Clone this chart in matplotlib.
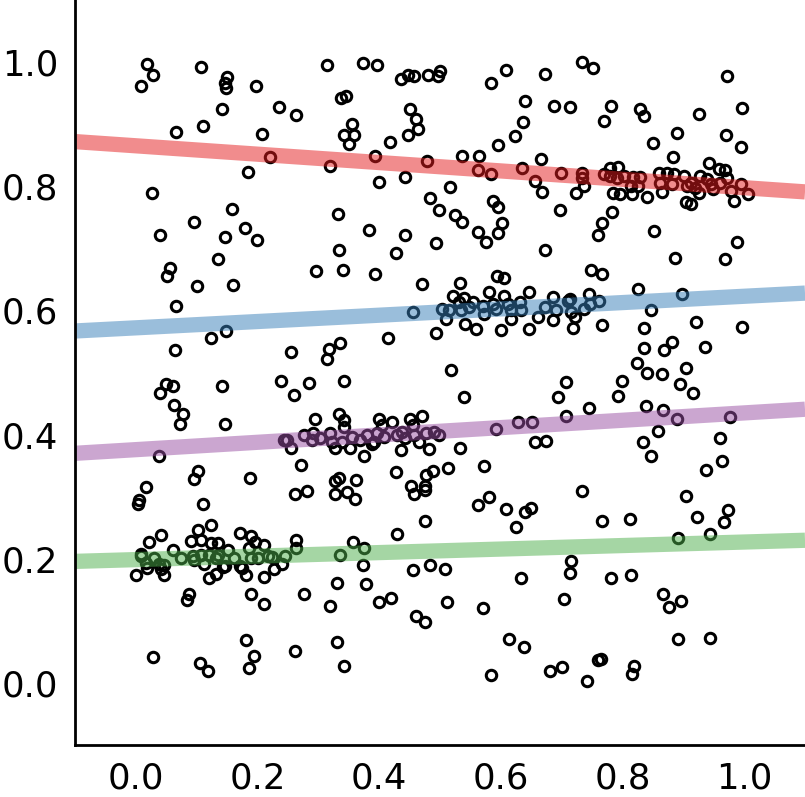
import numpy as np
import matplotlib
matplotlib.use("Agg")
import matplotlib.pyplot as plt

# scattered sample points
pts = [
    (0.018, 0.997), (0.028, 0.980), (0.009, 0.962), (0.107, 0.992), (0.150, 0.976), (0.146, 0.966),
    (0.149, 0.959), (0.197, 0.962), (0.236, 0.927), (0.141, 0.924), (0.111, 0.897), (0.067, 0.887),
    (0.208, 0.884), (0.220, 0.847), (0.184, 0.823), (0.027, 0.790), (0.158, 0.763), (0.095, 0.742),
    (0.179, 0.733), (0.040, 0.721), (0.147, 0.718), (0.200, 0.713), (0.136, 0.683), (0.057, 0.669),
    (0.051, 0.656),
    (0.315, 0.996), (0.373, 0.998), (0.396, 0.995), (0.436, 0.972), (0.447, 0.980), (0.457, 0.978),
    (0.481, 0.980), (0.500, 0.986), (0.497, 0.977), (0.338, 0.942), (0.345, 0.945), (0.263, 0.915),
    (0.450, 0.924), (0.460, 0.908), (0.464, 0.892), (0.447, 0.882), (0.355, 0.901), (0.342, 0.883),
    (0.358, 0.883), (0.350, 0.868), (0.418, 0.871), (0.393, 0.849), (0.320, 0.833), (0.479, 0.840),
    (0.400, 0.807), (0.443, 0.815), (0.484, 0.781), (0.499, 0.762), (0.332, 0.756), (0.383, 0.729),
    (0.443, 0.722), (0.494, 0.709), (0.334, 0.697), (0.427, 0.693), (0.296, 0.664), (0.340, 0.665),
    (0.393, 0.659), (0.471, 0.643),
    (0.733, 1.000), (0.752, 0.991), (0.609, 0.988), (0.672, 0.981), (0.584, 0.967), (0.639, 0.938),
    (0.687, 0.929), (0.713, 0.927), (0.769, 0.905), (0.636, 0.903), (0.623, 0.881), (0.596, 0.867),
    (0.536, 0.849), (0.564, 0.848), (0.666, 0.844), (0.562, 0.827), (0.584, 0.820), (0.635, 0.830),
    (0.657, 0.808), (0.668, 0.791), (0.699, 0.822), (0.734, 0.822), (0.734, 0.814), (0.736, 0.801),
    (0.723, 0.790), (0.517, 0.799), (0.525, 0.753), (0.537, 0.742), (0.587, 0.776), (0.595, 0.767),
    (0.602, 0.741), (0.596, 0.724), (0.562, 0.726), (0.575, 0.711), (0.698, 0.762), (0.673, 0.697),
    (0.760, 0.721), (0.594, 0.655), (0.606, 0.653), (0.749, 0.665),
    (0.971, 0.978), (0.781, 0.929), (0.829, 0.925), (0.836, 0.914), (0.926, 0.916), (0.997, 0.926),
    (0.890, 0.886), (0.970, 0.882), (0.995, 0.864), (0.851, 0.869), (0.883, 0.847), (0.943, 0.837),
    (0.959, 0.828), (0.969, 0.827),
    (0.769, 0.819), (0.779, 0.830), (0.792, 0.831), (0.780, 0.816), (0.791, 0.814), (0.803, 0.816),
    (0.814, 0.800), (0.818, 0.815), (0.829, 0.815), (0.825, 0.801), (0.785, 0.790), (0.796, 0.788),
    (0.815, 0.787), (0.841, 0.783), (0.860, 0.821), (0.873, 0.821), (0.862, 0.806), (0.865, 0.791),
    (0.881, 0.803), (0.884, 0.819), (0.901, 0.816), (0.906, 0.800), (0.912, 0.806), (0.927, 0.816),
    (0.920, 0.798), (0.926, 0.790), (0.939, 0.811), (0.945, 0.803), (0.948, 0.795), (0.961, 0.806),
    (0.972, 0.814), (0.978, 0.792), (0.983, 0.777), (0.995, 0.803), (1.007, 0.788), (0.904, 0.775),
    (0.912, 0.772),
    (0.782, 0.759), (0.767, 0.741), (0.852, 0.728), (0.989, 0.710), (0.886, 0.685), (0.968, 0.683),
    (0.766, 0.659),
    (0.100, 0.640), (0.160, 0.641), (0.066, 0.607), (0.149, 0.567), (0.123, 0.556), (0.065, 0.537),
    (0.255, 0.533), (0.050, 0.481), (0.062, 0.478), (0.040, 0.467), (0.142, 0.478), (0.238, 0.487),
    (0.063, 0.448), (0.077, 0.434), (0.072, 0.417), (0.147, 0.418), (0.244, 0.391), (0.038, 0.365),
    (0.102, 0.341), (0.095, 0.329), (0.188, 0.331), (0.017, 0.316),
    (0.005, 0.295), (0.003, 0.288), (0.110, 0.288), (0.041, 0.239), (0.022, 0.228), (0.102, 0.247),
    (0.124, 0.254), (0.091, 0.229), (0.107, 0.231), (0.123, 0.226), (0.136, 0.226), (0.171, 0.242),
    (0.190, 0.237), (0.196, 0.228), (0.211, 0.223), (0.062, 0.215), (0.009, 0.208), (0.152, 0.215),
    (0.187, 0.218),
    (0.008, 0.205), (0.017, 0.194), (0.030, 0.202), (0.039, 0.191), (0.047, 0.190), (0.074, 0.202),
    (0.094, 0.205), (0.096, 0.199), (0.107, 0.207), (0.120, 0.207), (0.135, 0.207), (0.113, 0.191),
    (0.132, 0.201), (0.146, 0.189), (0.162, 0.202), (0.171, 0.189), (0.190, 0.202), (0.201, 0.202),
    (0.218, 0.205), (0.224, 0.203), (0.245, 0.205),
    (0.000, 0.174), (0.019, 0.186), (0.041, 0.183), (0.047, 0.174), (0.121, 0.170), (0.132, 0.175),
    (0.143, 0.187), (0.174, 0.186), (0.182, 0.174), (0.211, 0.171), (0.228, 0.183), (0.240, 0.191),
    (0.088, 0.143), (0.084, 0.134), (0.190, 0.144), (0.211, 0.127), (0.182, 0.069), (0.029, 0.042),
    (0.105, 0.033), (0.119, 0.020), (0.195, 0.043), (0.186, 0.025),
    (0.262, 0.305), (0.281, 0.309), (0.328, 0.305), (0.347, 0.307), (0.360, 0.297), (0.457, 0.305),
    (0.476, 0.311), (0.476, 0.261), (0.429, 0.240), (0.264, 0.231), (0.264, 0.218), (0.357, 0.227),
    (0.376, 0.218), (0.336, 0.206), (0.373, 0.190), (0.455, 0.182), (0.483, 0.190), (0.508, 0.184),
    (0.331, 0.161), (0.379, 0.159), (0.277, 0.143), (0.320, 0.124), (0.400, 0.130), (0.419, 0.137),
    (0.460, 0.108), (0.476, 0.098), (0.331, 0.066), (0.261, 0.051), (0.343, 0.027),
    (0.734, 0.310), (0.580, 0.299), (0.563, 0.286), (0.609, 0.281), (0.640, 0.275), (0.650, 0.282),
    (0.625, 0.252), (0.716, 0.196), (0.713, 0.178), (0.633, 0.170), (0.511, 0.131), (0.570, 0.121),
    (0.704, 0.135), (0.613, 0.071), (0.638, 0.058), (0.584, 0.013), (0.681, 0.020), (0.701, 0.026),
    (0.742, 0.004), (0.760, 0.037),
    (0.904, 0.302), (0.974, 0.278), (0.967, 0.260), (0.923, 0.268), (0.813, 0.265), (0.767, 0.261),
    (0.891, 0.233), (0.944, 0.240), (0.781, 0.169), (0.814, 0.174), (0.866, 0.144), (0.876, 0.122),
    (0.896, 0.132), (0.892, 0.071), (0.944, 0.073), (0.765, 0.038), (0.819, 0.027), (0.815, 0.015),
    (0.456, 0.597), (0.503, 0.603), (0.493, 0.564), (0.414, 0.556), (0.336, 0.548), (0.318, 0.538),
    (0.314, 0.522), (0.342, 0.487), (0.285, 0.483), (0.260, 0.464), (0.295, 0.425), (0.334, 0.433),
    (0.342, 0.424), (0.342, 0.413), (0.400, 0.425), (0.421, 0.420), (0.450, 0.425), (0.470, 0.430),
    (0.405, 0.416), (0.456, 0.416),
    (0.248, 0.392), (0.276, 0.400), (0.292, 0.402), (0.289, 0.392), (0.303, 0.394), (0.320, 0.402),
    (0.322, 0.389), (0.339, 0.389), (0.355, 0.397), (0.369, 0.392), (0.380, 0.400), (0.391, 0.389),
    (0.397, 0.402), (0.408, 0.397), (0.430, 0.400), (0.438, 0.405), (0.443, 0.394), (0.457, 0.400),
    (0.477, 0.402), (0.490, 0.405), (0.499, 0.400), (0.466, 0.389),
    (0.255, 0.378), (0.327, 0.379), (0.353, 0.378), (0.376, 0.366), (0.388, 0.385), (0.436, 0.375),
    (0.482, 0.377), (0.272, 0.351), (0.334, 0.331), (0.328, 0.325), (0.362, 0.327), (0.427, 0.340),
    (0.452, 0.317), (0.477, 0.335), (0.489, 0.342), (0.476, 0.317),
    (0.533, 0.645), (0.522, 0.624), (0.539, 0.620), (0.580, 0.630), (0.606, 0.624), (0.647, 0.629),
    (0.686, 0.622), (0.714, 0.619), (0.745, 0.627),
    (0.515, 0.600), (0.532, 0.613), (0.534, 0.600), (0.548, 0.605), (0.554, 0.613), (0.570, 0.608),
    (0.573, 0.595), (0.587, 0.611), (0.592, 0.603), (0.612, 0.611), (0.617, 0.600), (0.631, 0.613),
    (0.633, 0.600), (0.672, 0.605), (0.691, 0.600), (0.711, 0.616), (0.716, 0.597), (0.736, 0.603),
    (0.747, 0.611),
    (0.510, 0.587), (0.541, 0.579), (0.559, 0.571), (0.601, 0.569), (0.616, 0.587), (0.647, 0.571),
    (0.661, 0.589), (0.686, 0.585), (0.719, 0.572), (0.722, 0.589),
    (0.519, 0.504), (0.539, 0.461), (0.708, 0.485), (0.694, 0.460), (0.745, 0.443), (0.708, 0.430),
    (0.628, 0.421), (0.652, 0.421), (0.592, 0.409), (0.657, 0.388), (0.674, 0.390), (0.533, 0.379),
    (0.514, 0.346), (0.573, 0.350),
    (0.826, 0.635), (0.898, 0.627), (0.762, 0.615), (0.847, 0.601), (0.766, 0.576), (0.836, 0.572),
    (0.921, 0.581), (0.997, 0.574), (0.882, 0.550), (0.869, 0.536), (0.836, 0.540), (0.935, 0.542),
    (0.824, 0.516), (0.840, 0.500), (0.865, 0.497), (0.904, 0.508), (0.895, 0.482), (0.916, 0.467),
    (0.800, 0.487), (0.792, 0.463), (0.839, 0.446), (0.866, 0.439), (0.890, 0.426), (0.977, 0.428),
    (0.858, 0.406), (0.833, 0.388), (0.847, 0.366), (0.961, 0.394), (0.964, 0.358), (0.938, 0.343),
]
pts = np.array(pts)

# fitted lines: y at the two ends of the x range
line_x = [-0.1, 1.1]
line_red = [0.872, 0.791]
line_blue = [0.567, 0.628]
line_purple = [0.370, 0.441]
line_green = [0.196, 0.230]
colors = ["#e41a1c", "#377eb8", "#984ea3", "#4daf4a"]

fig = plt.figure(figsize=(8.05, 7.97), dpi=100)
ax = fig.add_axes([0.093, 0.065, 0.907, 0.935])

ax.plot(pts[:, 0], pts[:, 1], "o", ms=7.5, mfc="none", mec="k", mew=2.2)
for ys, c in zip([line_red, line_blue, line_purple, line_green], colors):
    ax.plot(line_x, ys, color=c, lw=11, alpha=0.5, solid_capstyle="butt")

ax.set_xlim(-0.1, 1.1)
ax.set_ylim(-0.1, 1.1)
ax.set_xticks([0.0, 0.2, 0.4, 0.6, 0.8, 1.0])
ax.set_yticks([0.0, 0.2, 0.4, 0.6, 0.8, 1.0])
ax.spines["top"].set_visible(False)
ax.spines["right"].set_visible(False)
ax.spines["left"].set_linewidth(2)
ax.spines["bottom"].set_linewidth(2)
ax.tick_params(direction="in", length=0, labelsize=25.5, pad=12)

fig.savefig("out.png", dpi=100)
